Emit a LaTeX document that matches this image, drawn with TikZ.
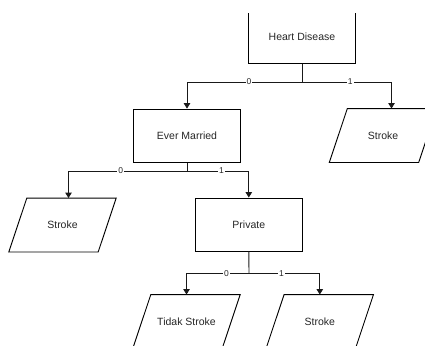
\documentclass[tikz,border=0pt]{standalone}
\usepackage{fontspec}
\setmainfont{Liberation Sans}
\usetikzlibrary{arrows.meta}
\begin{document}
\begin{tikzpicture}[x=1pt,y=-1pt,
  every node/.style={font=\fontsize{10.5}{12}\selectfont, text=black!85},
  boxnode/.style={draw, line width=0.9pt, rectangle, minimum width=106.7pt, minimum height=53.3pt, inner sep=0pt},
  outnode/.style={rectangle, minimum width=89pt, minimum height=53.5pt, inner sep=0pt},
  outline/.style={line width=0.9pt, draw=black},
  link/.style={line width=0.9pt, draw=black!90},
  arr/.style={link, -{Triangle[length=5.5pt,width=6.5pt]}},
  lbl/.style={fill=white, inner sep=0.8pt, font=\fontsize{8.5}{9}\selectfont}]
\useasboundingbox (0,0) rectangle (425,345);
\clip (0,13.5) rectangle (425,345);

% decision nodes
\node[boxnode] (hd) at (302,36.7)  {Heart Disease};
\node[boxnode] (em) at (187,135.7) {Ever Married};
\node[boxnode, minimum width=106.3pt, minimum height=53pt] (pr) at (248.8,224.5) {Private};

% leaf outcomes (parallelograms leaning right)
\node[outnode] (s1) at (383,135.5) {Stroke};
\node[outnode] (s2) at (62.5,225) {Stroke};
\node[outnode] (ts) at (186.5,321.5) {Tidak Stroke};
\node[outnode] (s3) at (319.8,321.5) {Stroke};
\foreach \n in {s1,s2,ts,s3}
  \draw[outline] ([xshift=9pt]\n.north west) -- ([xshift=9pt]\n.north east)
    -- ([xshift=-9pt]\n.south east) -- ([xshift=-9pt]\n.south west) -- cycle;

% branch points
\coordinate (j1) at (302,82);
\coordinate (j2) at (187,171);
\coordinate (j3) at (249,273.3);

% Heart Disease split
\draw[link] (hd.south) -- (j1);
\draw[arr] (j1) -| node[lbl, pos=0.23] {0} (em.north);
\draw[arr] (j1) -| node[lbl, pos=0.27] {1} ([xshift=8.5pt]s1.north);

% Ever Married split
\draw[link] (em.south) -- (j2);
\draw[arr] (j2) -| node[lbl, pos=0.28] {0} ([xshift=6pt]s2.north);
\draw[arr] (j2) -| node[lbl, pos=0.28] {1} (pr.north);

% Private split
\draw[link] (pr.south) -- (j3);
\draw[arr] (j3) -| node[lbl, pos=0.18] {0} (ts.north);
\draw[arr] (j3) -| node[lbl, pos=0.23] {1} (s3.north);
\end{tikzpicture}
\end{document}
